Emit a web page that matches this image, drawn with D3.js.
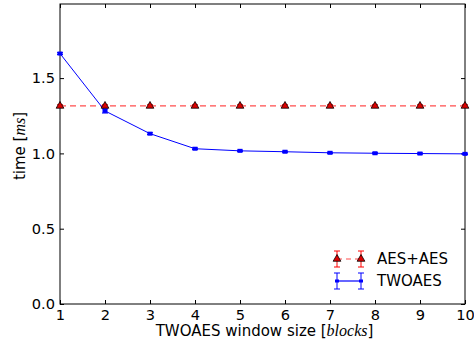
<!DOCTYPE html>
<html><head><meta charset="utf-8">
<script src="https://cdn.jsdelivr.net/npm/d3@7"></script>
<style>body{margin:0;background:#fff}svg{display:block}text{font-family:"DejaVu Sans",sans-serif}</style>
</head><body>
<script>
const windowSizes = [1,2,3,4,5,6,7,8,9,10];
const aesaesTime = [1.315,1.315,1.315,1.315,1.315,1.315,1.315,1.315,1.315,1.315];
const aesaesErr  = [0.008,0.008,0.008,0.008,0.008,0.008,0.008,0.008,0.008,0.008];
const twoaesTime = [1.663,1.282,1.131,1.031,1.017,1.011,1.004,1.001,0.999,0.997];
const twoaesErr  = [0.006,0.014,0.006,0.005,0.004,0.004,0.004,0.004,0.004,0.004];
const xTicks = [1,2,3,4,5,6,7,8,9,10];
const yTicks = [0.0,0.5,1.0,1.5];

const W=474,H=347, L=60,R=465,T=4,B=304;
const FS=14.6;
const svg=d3.select("body").append("svg").attr("width",W).attr("height",H);
const x=d3.scaleLinear().domain([1,10]).range([L,R]);
const y=d3.scaleLinear().domain([0,1.992]).range([B,T]);

const gx=svg.append("g").attr("transform",`translate(0,${B})`)
  .call(d3.axisBottom(x).tickValues(xTicks).tickSizeInner(-4).tickSizeOuter(0).tickPadding(4).tickFormat(d3.format("d")));
const gxt=svg.append("g").attr("transform",`translate(0,${T})`)
  .call(d3.axisTop(x).tickValues(xTicks).tickSizeInner(-4).tickSizeOuter(0).tickFormat(""));
const gy=svg.append("g").attr("transform",`translate(${L},0)`)
  .call(d3.axisLeft(y).tickValues(yTicks).tickSizeInner(-4).tickSizeOuter(0).tickPadding(5).tickFormat(d3.format(".1f")));
const gyr=svg.append("g").attr("transform",`translate(${R},0)`)
  .call(d3.axisRight(y).tickValues(yTicks).tickSizeInner(-4).tickSizeOuter(0).tickFormat(""));
[gx,gxt,gy,gyr].forEach(g=>{g.select(".domain").remove();g.selectAll("line").attr("stroke","#000");
  g.selectAll("text").attr("font-size",FS).attr("fill","#000").attr("font-family","DejaVu Sans");});
gx.selectAll("text").attr("y",null).attr("dy",null).attr("transform","translate(0,16)");

svg.append("rect").attr("x",L).attr("y",T).attr("width",R-L).attr("height",B-T)
  .attr("fill","none").attr("stroke","#000").attr("stroke-width",1);

const plot=svg.append("g");
const line=d3.line().x((d,i)=>x(windowSizes[i])).y(d=>y(d));

plot.append("path").datum(aesaesTime).attr("d",line).attr("fill","none")
  .attr("stroke","#ff0000").attr("stroke-opacity",0.7).attr("stroke-width",1.3).attr("stroke-dasharray","6,4");
plot.append("path").datum(twoaesTime).attr("d",line).attr("fill","none")
  .attr("stroke","#0000ff").attr("stroke-width",1);

function errbars(vals,errs,color){
  const g=plot.append("g").attr("stroke",color).attr("stroke-width",1);
  vals.forEach((v,i)=>{
    const cx=x(windowSizes[i]);
    g.append("line").attr("x1",cx).attr("x2",cx).attr("y1",y(v-errs[i])).attr("y2",y(v+errs[i]));
    [v-errs[i],v+errs[i]].forEach(e=>g.append("line").attr("x1",cx-3).attr("x2",cx+3).attr("y1",y(e)).attr("y2",y(e)));
  });
}
errbars(aesaesTime,aesaesErr,"#ff0000");
errbars(twoaesTime,twoaesErr,"#0000ff");

const tri=d3.symbol().type(d3.symbolTriangle).size(26);
plot.selectAll(".tri").data(aesaesTime).enter().append("path")
  .attr("transform",(d,i)=>`translate(${x(windowSizes[i])},${y(d)})`).attr("d",tri)
  .attr("fill","#dd0000").attr("stroke","#000").attr("stroke-width",0.8);
plot.selectAll(".sq").data(twoaesTime).enter().append("rect")
  .attr("x",(d,i)=>x(windowSizes[i])-2.5).attr("y",d=>y(d)-2).attr("width",5).attr("height",4)
  .attr("fill","#0000ff");

const xl=svg.append("text").attr("x",(L+R)/2+2).attr("y",336).attr("text-anchor","middle").attr("font-size",15);
xl.append("tspan").text("TWOAES window size [");
xl.append("tspan").attr("font-family","Liberation Serif").attr("font-style","italic").attr("font-size",16).text("blocks");
xl.append("tspan").text("]");
const yl=svg.append("text").attr("transform",`translate(25,146) rotate(-90)`).attr("text-anchor","middle").attr("font-size",15);
yl.append("tspan").text("time [");
yl.append("tspan").attr("font-family","Liberation Serif").attr("font-style","italic").attr("font-size",16).text("ms");
yl.append("tspan").text("]");

const leg=svg.append("g");
function legItem(yy,color,dash,marker,label){
  const x1=337,x2=361;
  leg.append("line").attr("x1",x1).attr("x2",x2).attr("y1",yy).attr("y2",yy).attr("stroke",color)
    .attr("stroke-width",1.2).attr("stroke-dasharray",dash||null).attr("stroke-opacity",dash?0.7:1);
  [x1,x2].forEach(cx=>{
    leg.append("line").attr("x1",cx).attr("x2",cx).attr("y1",yy-8).attr("y2",yy+8).attr("stroke",color);
    leg.append("line").attr("x1",cx-3).attr("x2",cx+3).attr("y1",yy-8).attr("y2",yy-8).attr("stroke",color);
    leg.append("line").attr("x1",cx-3).attr("x2",cx+3).attr("y1",yy+8).attr("y2",yy+8).attr("stroke",color);
    if(marker==="tri") leg.append("path").attr("transform",`translate(${cx},${yy})`).attr("d",tri)
      .attr("fill","#dd0000").attr("stroke","#000").attr("stroke-width",0.8);
    else leg.append("rect").attr("x",cx-2).attr("y",yy-1.5).attr("width",4).attr("height",3).attr("fill",color);
  });
  leg.append("text").attr("x",377).attr("y",yy).attr("dy","0.35em").attr("font-size",15).text(label);
}
legItem(259,"#ff0000","5,4","tri","AES+AES");
legItem(281,"#0000ff",null,"sq","TWOAES");
</script>
</body></html>
